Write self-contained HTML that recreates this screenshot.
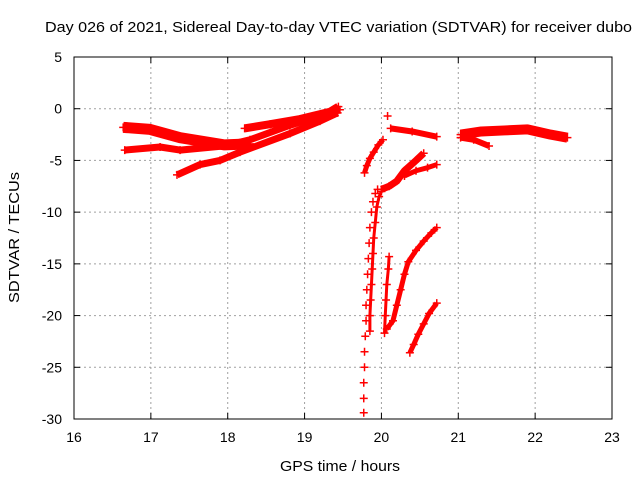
<!DOCTYPE html>
<html><head><meta charset="utf-8"><style>
body{margin:0;background:#fff}
svg text{font-family:"Liberation Sans",sans-serif;font-size:14px;fill:#000}
</style></head><body>
<svg id="c" width="640" height="480">
<text x="45" y="32" textLength="587" lengthAdjust="spacingAndGlyphs" style="font-size:15px">Day 026 of 2021, Sidereal Day-to-day VTEC variation (SDTVAR) for receiver dubo</text>
<text x="280" y="471" textLength="120" lengthAdjust="spacingAndGlyphs" style="font-size:15px">GPS time / hours</text>
<text transform="translate(19,303) rotate(-90)" textLength="131" lengthAdjust="spacingAndGlyphs" style="font-size:15px">SDTVAR / TECUs</text>
<g id="grid"></g><g id="marks"></g>
<rect x="74" y="57" width="538" height="362" fill="none" stroke="#000"/>
</svg>
<script>
const xTicks=[16,17,18,19,20,21,22,23];
const yTicks=[5,0,-5,-10,-15,-20,-25,-30];
const bandAHours=[16.64,16.99,17.38,17.96,18.29];
const bandAValues=[-1.8,-2.0,-2.8,-3.5,-3.4];
const bandBHours=[16.66,17.12,17.38,17.96,18.29,18.81,19.46];
const bandBValues=[-4.0,-3.7,-4.0,-3.6,-3.0,-1.6,-0.1];
const bandCHours=[17.34,17.64,17.9,18.16,18.81,19.2,19.43];
const bandCValues=[-6.4,-5.4,-5.0,-4.2,-2.4,-1.2,-0.4];
const bandDHours=[18.22,18.55,18.94,19.33,19.44];
const bandDValues=[-1.9,-1.5,-1.0,-0.3,0.2];
const bandEHours=[20.12,20.4,20.72];
const bandEValues=[-1.9,-2.2,-2.7];
const bandFHours=[21.03,21.3,21.6,21.9,22.2,22.42];
const bandFValues=[-2.5,-2.2,-2.1,-2.0,-2.5,-2.8];
const bandGHours=[21.03,21.2,21.4];
const bandGValues=[-2.8,-3.0,-3.6];
const bendHours=[20.0,20.1,20.2,20.3,20.45,20.55];
const bendValues=[-7.8,-7.5,-7.0,-6.0,-5.0,-4.3];
const branchHours=[20.3,20.45,20.6,20.72];
const branchValues=[-6.5,-6.0,-5.7,-5.4];
const s0Hours=[19.78,19.81,19.85,19.9,19.96,20.02];
const s0Values=[-6.2,-5.5,-4.8,-4.2,-3.5,-3.0];
const s1Hours=[19.77,19.77,19.77,19.78,19.78,19.79,19.8,19.8,19.81,19.82,19.83,19.84,19.85,19.87,19.89,19.92,19.95];
const s1Values=[-29.4,-28,-26.5,-25,-23.5,-22,-20.5,-19,-17.5,-16,-14.5,-13,-11.5,-10,-9,-8.2,-7.8];
const s2Hours=[19.85,19.85,19.86,19.87,19.88,19.89,19.9,19.92,19.94,19.97,20.0];
const s2Values=[-21.5,-20,-18.5,-17,-15.5,-14,-12.5,-11,-9.5,-8.5,-8];
const s3Hours=[20.04,20.05,20.06,20.07,20.09,20.1];
const s3Values=[-21.7,-20,-18.5,-17,-15.5,-14.3];
const s4Hours=[20.07,20.15,20.2,20.25,20.3,20.35,20.45,20.55,20.65,20.72];
const s4Values=[-21.3,-20.5,-19,-17.5,-16,-14.8,-13.7,-12.8,-12,-11.5];
const s5Hours=[20.37,20.42,20.48,20.55,20.62,20.72];
const s5Values=[-23.6,-22.8,-21.8,-20.8,-19.8,-18.8];
const lonePointHours=[20.08];
const lonePointValues=[-0.7];

const NS='http://www.w3.org/2000/svg';
const X=h=>74+(h-16)*538/7;
const Y=v=>57+(5-v)*362/35;
const grid=document.getElementById('grid'),marks=document.getElementById('marks');
function mk(t,a,p){const e=document.createElementNS(NS,t);for(const k in a)e.setAttribute(k,a[k]);p.appendChild(e);return e;}
xTicks.forEach(t=>{
 if(t>16&&t<23){const l=mk('line',{x1:X(t),x2:X(t),y1:57,y2:419,stroke:'#a0a0a0','stroke-dasharray':'2,3'},grid);
 
 }
 mk('line',{x1:X(t),x2:X(t),y1:419,y2:413,stroke:'#000'},grid);
 mk('line',{x1:X(t),x2:X(t),y1:57,y2:63,stroke:'#000'},grid);
 const tx=mk('text',{x:X(t),y:442,'text-anchor':'middle'},grid);tx.textContent=t;
 
 
});
yTicks.forEach(t=>{
 if(t<5&&t>-30){const l=mk('line',{x1:74,x2:612,y1:Y(t),y2:Y(t),stroke:'#a0a0a0','stroke-dasharray':'2,3'},grid);
 
 }
 mk('line',{x1:74,x2:80,y1:Y(t),y2:Y(t),stroke:'#000'},grid);
 mk('line',{x1:606,x2:612,y1:Y(t),y2:Y(t),stroke:'#000'},grid);
 const tx=mk('text',{x:62,y:Y(t)+5,'text-anchor':'end'},grid);tx.textContent=t;
 
 
});
function band(hs,vs,w,name){
 const p=mk('polyline',{points:hs.map((h,i)=>X(h)+','+Y(vs[i])).join(' '),fill:'none',stroke:'#f00','stroke-width':w,'stroke-linejoin':'round'},marks);
 
 
 pts(hs,vs,name+'-point');
}
function pts(hs,vs,name){
 hs.forEach((h,i)=>{const x=X(h),y=Y(vs[i]);
  const g=mk('path',{d:`M${x-4},${y}H${x+4}M${x},${y-4}V${y+4}`,stroke:'#f00','stroke-width':1.5},marks);
  
  
 });
}
band(bandAHours,bandAValues,11,'track-a');
band(bandBHours,bandBValues,7,'track-b');
band(bandCHours,bandCValues,7,'track-c');
band(bandDHours,bandDValues,8,'track-d');
band(bandEHours,bandEValues,6,'track-e');
band(bandFHours,bandFValues,10,'track-f');
band(bandGHours,bandGValues,6,'track-g');
band(bendHours,bendValues,7,'track-bend');
band(branchHours,branchValues,5,'track-branch');
band(s0Hours,s0Values,5,'track-s0');
band(s4Hours,s4Values,5,'track-s4');
band(s5Hours,s5Values,5,'track-s5');
band(s2Hours,s2Values,3,'track-s2');
band(s3Hours,s3Values,3,'track-s3');
pts(s1Hours,s1Values,'track-s1-point');
pts(lonePointHours,lonePointValues,'lone-point');
</script>
</body></html>
